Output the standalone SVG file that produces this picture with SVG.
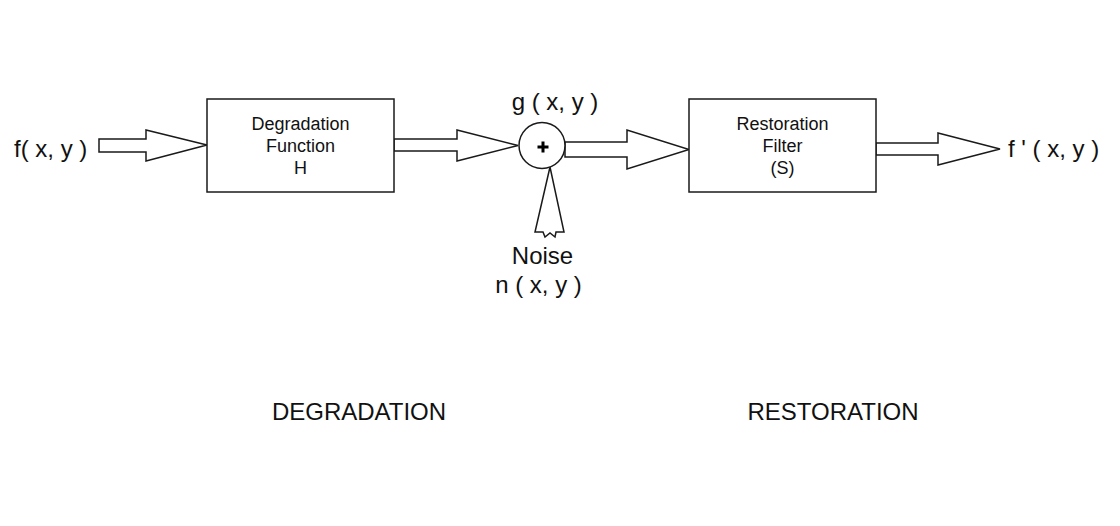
<svg xmlns="http://www.w3.org/2000/svg" width="1120" height="526" viewBox="0 0 1120 526">
<style>
.box{fill:#fff;stroke:#1a1a1a;stroke-width:1.5}
.arr{fill:#fff;stroke:#1a1a1a;stroke-width:1.5;stroke-linejoin:miter}
.lbl{font-family:"Liberation Sans",Arial,sans-serif;font-size:24px;fill:#111}
.inner{font-family:"Liberation Sans",Arial,sans-serif;font-size:18px;fill:#111;text-anchor:middle}
</style>
<rect width="1120" height="526" fill="#fff"/>
<g id="connectors">
<polygon class="arr" points="99,139 146,139 146,130 207,145 146,161 146,152 99,152"/>
<polygon class="arr" points="394,139 457,139 457,130 518,145.5 457,161 457,151 394,151"/>
<polygon class="arr" points="565,142 627,142 627,130 689,149.5 627,169 627,157 565,157"/>
<polygon class="arr" points="876,143 938,143 938,133 1000,149 938,165 938,155 876,155"/>
<polygon class="arr" points="550,167 564,232 556,232 555,237 550,233 545,237 543,232 535,232"/>
</g>
<g id="input-label"><text class="lbl" x="14" y="157">f( x, y )</text></g>
<g id="degradation-function">
<rect class="box" x="207" y="99" width="187" height="93"/>
<text class="inner" x="300.5" y="130">Degradation</text>
<text class="inner" x="300.5" y="152">Function</text>
<text class="inner" x="300.5" y="174">H</text>
</g>
<g id="sum">
<circle cx="542" cy="145.5" r="23" fill="#fff" stroke="#1a1a1a" stroke-width="1.5"/>
<path d="M537.5 147H548.5M543 141.5V152.5" stroke="#000" stroke-width="3" fill="none"/>
<text class="lbl" x="555" y="110" text-anchor="middle">g ( x, y )</text>
</g>
<g id="noise">
<text class="lbl" x="542.5" y="264" text-anchor="middle">Noise</text>
<text class="lbl" x="538.5" y="293" text-anchor="middle">n ( x, y )</text>
</g>
<g id="restoration-filter">
<rect class="box" x="689" y="99" width="187" height="93"/>
<text class="inner" x="782.5" y="130">Restoration</text>
<text class="inner" x="782.5" y="152">Filter</text>
<text class="inner" x="782.5" y="174">(S)</text>
</g>
<g id="output-label"><text class="lbl" x="1008" y="157">f ' ( x, y )</text></g>
<g id="section-labels">
<text class="lbl" x="359" y="420" text-anchor="middle">DEGRADATION</text>
<text class="lbl" x="833" y="420" text-anchor="middle">RESTORATION</text>
</g>
</svg>
